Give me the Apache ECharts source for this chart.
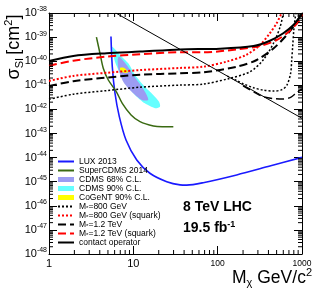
<!DOCTYPE html>
<html><head><meta charset="utf-8">
<script src="https://cdn.jsdelivr.net/npm/echarts@6/dist/echarts.min.js"></script>
<style>html,body{margin:0;padding:0;background:#fff}#c{width:315px;height:304px}</style>
</head><body><div id="c"></div>
<script>
// ---- data (x in GeV/c^2, y in cm^2) ----
const luxX = [5.43, 5.63, 6.06, 6.82, 8.19, 10.98, 15.7, 24.9, 35.8, 43, 67.4, 168, 416, 1000];
const luxY = [1.05e-39, 5.89e-41, 4.68e-42, 5.01e-43, 5.37e-44, 7.94e-45, 2.24e-45, 1.0e-45, 7.41e-46, 7.24e-46, 9.12e-46, 1.91e-45, 4.47e-45, 1.02e-44];

const scdmsX = [3.65, 4.02, 4.4, 5.05, 6.3, 7.4, 9.4, 12.0, 17.3, 22, 29.8];
const scdmsY = [1.0e-39, 2.14e-40, 5.13e-41, 1.66e-41, 5.37e-42, 1.78e-42, 5.89e-43, 3.09e-43, 2.04e-43, 1.91e-43, 1.91e-43];

const cdms68X = [6.76, 8.34, 10.0, 12.6, 14.4, 15.0, 12.6, 9.56, 7.6, 6.63, 6.53];
const cdms68Y = [1.55e-40, 6.92e-41, 2.69e-41, 8.71e-42, 3.98e-42, 2.45e-42, 2.45e-42, 5.37e-42, 1.41e-41, 5.13e-41, 1.12e-40];

const cdms90X = [5.63, 6.95, 8.72, 10.47, 13.7, 17.2, 20.2, 20.7, 18.1, 13.7, 10.47, 8.34, 6.95, 6.06, 5.69];
const cdms90Y = [3.98e-40, 1.82e-40, 8.13e-41, 2.69e-41, 8.71e-42, 3.98e-42, 2.09e-42, 1.29e-42, 1.12e-42, 1.78e-42, 3.98e-42, 1.02e-41, 3.16e-41, 9.55e-41, 2.45e-40];

const cogentX = [6.95, 7.8, 8.72, 8.0, 7.1];
const cogentY = [5.25e-41, 5.25e-41, 3.55e-41, 3.24e-41, 3.89e-41];

const m800X = [1, 1.94, 4.84, 12, 35.8, 67.4, 140, 241, 346, 458, 551, 600];
const m800Y = [2.63e-42, 4.27e-42, 6.03e-42, 8.32e-42, 1.02e-41, 1.12e-41, 1.95e-41, 3.63e-41, 1.12e-40, 5.5e-40, 2.69e-39, 1.0e-38];
const m800LowX = [130, 168, 200, 266, 346, 458, 580, 661, 733, 755, 775, 800, 830, 850];
const m800LowY = [2.4e-41, 1.58e-41, 1.17e-41, 7.94e-42, 6.31e-42, 5.75e-42, 6.61e-42, 1.0e-41, 3.16e-41, 1.12e-40, 3.98e-40, 2.0e-39, 6.31e-39, 1.0e-38];

const m800sqX = [1, 1.94, 4.84, 12, 35.8, 67.4, 127, 218, 317, 416, 500, 573];
const m800sqY = [1.51e-41, 2.45e-41, 3.31e-41, 4.27e-41, 5.25e-41, 5.89e-41, 9.55e-41, 1.82e-40, 4.68e-40, 1.45e-39, 3.72e-39, 1.0e-38];

const m1200X = [1, 1.94, 4.84, 12, 35.8, 67.4, 168, 290, 458, 661, 869, 1000];
const m1200Y = [9.33e-42, 1.48e-41, 2.09e-41, 2.75e-41, 3.16e-41, 3.47e-41, 5.89e-41, 1.12e-40, 3.39e-40, 1.23e-39, 4.37e-39, 1.0e-38];
const m1200LowX = [200, 280, 346, 450, 600, 733, 869, 1000];
const m1200LowY = [9.55e-42, 4.9e-42, 3.39e-42, 2.82e-42, 2.69e-42, 3.16e-42, 5.01e-42, 7.08e-42];

const m1200sqX = [1, 1.94, 4.84, 12, 35.8, 67.4, 168, 317, 500, 661, 910, 1000];
const m1200sqY = [6.46e-41, 1.05e-40, 1.55e-40, 1.95e-40, 2.34e-40, 2.34e-40, 3.09e-40, 4.27e-40, 7.59e-40, 1.45e-39, 4.37e-39, 8.9e-39];

const contactX = [1, 1.94, 4.84, 12, 35.8, 106, 266, 416, 600, 791, 1000];
const contactY = [1.02e-40, 1.66e-40, 2.14e-40, 2.51e-40, 3.09e-40, 3.31e-40, 4.27e-40, 7.08e-40, 1.45e-39, 3.16e-39, 9.8e-39];

const diagX = [6.2, 1000];
const diagY = [1.0e-38, 4.27e-43];

// axis ranges and tick labels
const xMin = 1, xMax = 1000;
const yMin = 1e-48, yMax = 1e-38;
const xTickLabels = {1: '1', 10: '10', 100: '100', 1000: '1000'};
const yTickExps = ['-48','-47','-46','-45','-44','-43','-42','-41','-40','-39','-38'];

// ---- build ----
// ECharts' log scale cannot handle ~1e-48 numerically, so the y axis works in units of 1e-48 cm^2.
const Y_UNIT = 1e-48;
const yv = y => y / Y_UNIT;
const pairs = (xs, ys) => xs.map((x, i) => [x, yv(ys[i])]);
const FONT = 'Liberation Sans';

const xMinor = [], yMinor = [];
[1, 10, 100].forEach(d => { for (let k = 2; k <= 9; k++) xMinor.push(k * d); });
for (let e = 0; e < 10; e++) { for (let k = 2; k <= 9; k++) yMinor.push(k * Math.pow(10, e)); }

function lineSeries(name, xs, ys, color, width, type) {
  return {
    type: 'line', name: name, data: pairs(xs, ys), symbol: 'none', showSymbol: false, smooth: 0.3,
    lineStyle: {color: color, width: width, type: type}, itemStyle: {color: color},
    z: 3, silent: true, animation: false
  };
}
function polySeries(name, xs, ys, color, z) {
  return {
    type: 'custom', name: name, coordinateSystem: 'cartesian2d', data: [[10, 1e8]],
    itemStyle: {color: color}, z: z, silent: true, animation: false,
    renderItem: function (params, api) {
      return {
        type: 'polygon',
        shape: {points: xs.map((x, i) => api.coord([x, yv(ys[i])])), smooth: 0.25},
        style: {fill: color, stroke: null}
      };
    }
  };
}

const legendText = {
  'M800': '{t|M}{s|*}{t|=800 GeV}',
  'M800sq': '{t|M}{s|*}{t|=800 GeV (squark)}',
  'M1200': '{t|M}{s|*}{t|=1.2 TeV}',
  'M1200sq': '{t|M}{s|*}{t|=1.2 TeV (squark)}'
};
const noSym = {opacity: 0};

const axisCommon = {
  type: 'log', logBase: 10,
  axisLine: {show: true, lineStyle: {color: '#000', width: 1}},
  splitLine: {show: false},
  minorTick: {show: false}
};

const chart = echarts.init(document.getElementById('c'), null, {renderer: 'canvas'});
chart.setOption({
  animation: false,
  grid: {left: 49, top: 13, right: 13, bottom: 50, show: false},
  xAxis: [
    Object.assign({}, axisCommon, {
      min: xMin, max: xMax, splitNumber: 3, interval: 1, position: 'bottom',
      axisTick: {show: true, inside: true, length: 8, lineStyle: {color: '#000'}},
      axisLabel: {
        show: true, margin: 4, color: '#000', fontFamily: FONT, hideOverlap: false, showMinLabel: true, showMaxLabel: true,
        formatter: v => {
          const l = xTickLabels[Math.round(v)];
          return Math.round(v) >= 100 ? '{s|' + l + '}' : '{b|' + l + '}';
        },
        rich: {b: {fontSize: 11, fontFamily: FONT, color: '#000'}, s: {fontSize: 8.5, fontFamily: FONT, color: '#000', padding: [1, 0, 0, 0]}}
      }
    }),
    Object.assign({}, axisCommon, {
      min: xMin, max: xMax, splitNumber: 3, interval: 1, position: 'top',
      axisTick: {show: true, inside: true, length: 8, lineStyle: {color: '#000'}},
      axisLabel: {show: false}
    })
  ],
  yAxis: [
    Object.assign({}, axisCommon, {
      min: yv(yMin), max: yv(yMax), splitNumber: 10, interval: 1, position: 'left',
      axisTick: {show: true, inside: true, length: 8, lineStyle: {color: '#000'}},
      axisLabel: {
        show: true, margin: 2, color: '#000', fontFamily: FONT, hideOverlap: false, interval: 0,
        formatter: v => '{b|10}{s|' + yTickExps[Math.round(Math.log10(v))] + '}',
        rich: {
          b: {fontSize: 11, fontFamily: FONT, color: '#000', lineHeight: 14},
          s: {fontSize: 7, fontFamily: FONT, color: '#000', verticalAlign: 'top', lineHeight: 8}
        }
      }
    }),
    Object.assign({}, axisCommon, {
      min: yv(yMin), max: yv(yMax), splitNumber: 10, interval: 1, position: 'right',
      axisTick: {show: true, inside: true, length: 8, lineStyle: {color: '#000'}},
      axisLabel: {show: false}
    })
  ],
  legend: {
    orient: 'vertical', left: 57, top: 157, padding: 0, itemGap: 0,
    itemWidth: 16, itemHeight: 5, selectedMode: false,
    textStyle: {fontSize: 8.5, fontFamily: FONT, color: '#000', lineHeight: 9,
      rich: {t: {fontSize: 8.5, fontFamily: FONT, color: '#000', lineHeight: 9},
             s: {fontSize: 6, fontFamily: FONT, color: '#000', verticalAlign: 'bottom', lineHeight: 9}}},
    formatter: name => legendText[name] || name,
    data: [
      {name: 'LUX 2013', itemStyle: noSym}, {name: 'SuperCDMS 2014', itemStyle: noSym},
      {name: 'CDMS 68% C.L.', icon: 'rect'}, {name: 'CDMS 90% C.L.', icon: 'rect'},
      {name: 'CoGeNT 90% C.L.', icon: 'rect'},
      {name: 'M800', itemStyle: noSym}, {name: 'M800sq', itemStyle: noSym},
      {name: 'M1200', itemStyle: noSym}, {name: 'M1200sq', itemStyle: noSym},
      {name: 'contact operator', itemStyle: noSym}
    ]
  },
  graphic: [
    {type: 'text', x: 14, y: 47, rotation: Math.PI / 2,
     style: {text: '{g|σ}{sb|SI} {g|[cm}{sp|2}{g|]}', align: 'center', verticalAlign: 'middle',
       rich: {g: {fontSize: 18, fontFamily: FONT, fill: '#000', lineHeight: 22},
              sb: {fontSize: 11, fontFamily: FONT, fill: '#000', verticalAlign: 'bottom', lineHeight: 18},
              sp: {fontSize: 11, fontFamily: FONT, fill: '#000', verticalAlign: 'top', lineHeight: 13}}}},
    {type: 'text', x: 312, y: 278,
     style: {text: '{g|M}{sb|χ}{g| GeV/c}{sp|2}', align: 'right', verticalAlign: 'middle',
       rich: {g: {fontSize: 17.5, fontFamily: FONT, fill: '#000', lineHeight: 21},
              sb: {fontSize: 11, fontFamily: FONT, fill: '#000', verticalAlign: 'bottom', lineHeight: 17},
              sp: {fontSize: 11, fontFamily: FONT, fill: '#000', verticalAlign: 'top', lineHeight: 13}}}},
    {type: 'text', x: 183, y: 207,
     style: {text: '8 TeV LHC', fontSize: 14, fontWeight: 'bold', fontFamily: FONT, fill: '#000', verticalAlign: 'middle'}},
    {type: 'text', x: 183, y: 228,
     style: {text: '{g|19.5 fb}{sp|-1}', verticalAlign: 'middle',
       rich: {g: {fontSize: 14, fontWeight: 'bold', fontFamily: FONT, fill: '#000', lineHeight: 16},
              sp: {fontSize: 9, fontWeight: 'bold', fontFamily: FONT, fill: '#000', verticalAlign: 'top', lineHeight: 10}}}}
  ],
  series: [
    polySeries('CDMS 90% C.L.', cdms90X, cdms90Y, '#66ffff', 1),
    polySeries('CDMS 68% C.L.', cdms68X, cdms68Y, '#9c9cf2', 1.1),
    polySeries('CoGeNT 90% C.L.', cogentX, cogentY, '#ffff00', 1.2),
    lineSeries('LUX 2013', luxX, luxY, '#1a1aff', 1.6, 'solid'),
    lineSeries('SuperCDMS 2014', scdmsX, scdmsY, '#3a6a12', 1.5, 'solid'),
    lineSeries('M800', m800X, m800Y, '#000', 1.5, [2, 2]),
    lineSeries('M800low', m800LowX, m800LowY, '#000', 1.5, [2, 2]),
    lineSeries('M800sq', m800sqX, m800sqY, '#ff0000', 2, [2, 2]),
    lineSeries('M1200', m1200X, m1200Y, '#000', 2, [8, 4]),
    lineSeries('M1200low', m1200LowX, m1200LowY, '#000', 1.5, [8, 4]),
    lineSeries('M1200sq', m1200sqX, m1200sqY, '#ff0000', 2, [8, 4]),
    lineSeries('contact operator', contactX, contactY, '#000', 2, 'solid'),
    Object.assign(lineSeries('diag', diagX, diagY, '#000', 1, 'solid'), {smooth: false}),
    {
      type: 'custom', name: 'minorTicks', coordinateSystem: 'cartesian2d', data: [[10, 1e8]],
      silent: true, animation: false, z: 5,
      renderItem: function (params, api) {
        const children = [];
        const bl = api.coord([xMin, yv(yMin)]), tr = api.coord([xMax, yv(yMax)]);
        const st = {stroke: '#000', lineWidth: 1};
        xMinor.forEach(v => {
          const p = api.coord([v, yv(yMin)]);
          children.push({type: 'line', shape: {x1: p[0], y1: bl[1], x2: p[0], y2: bl[1] - 4}, style: st});
          children.push({type: 'line', shape: {x1: p[0], y1: tr[1], x2: p[0], y2: tr[1] + 4}, style: st});
        });
        yMinor.forEach(v => {
          const p = api.coord([xMin, v]);
          children.push({type: 'line', shape: {x1: bl[0], y1: p[1], x2: bl[0] + 4, y2: p[1]}, style: st});
          children.push({type: 'line', shape: {x1: tr[0], y1: p[1], x2: tr[0] - 4, y2: p[1]}, style: st});
        });
        return {type: 'group', children: children};
      }
    }
  ]
});
</script>
</body></html>
